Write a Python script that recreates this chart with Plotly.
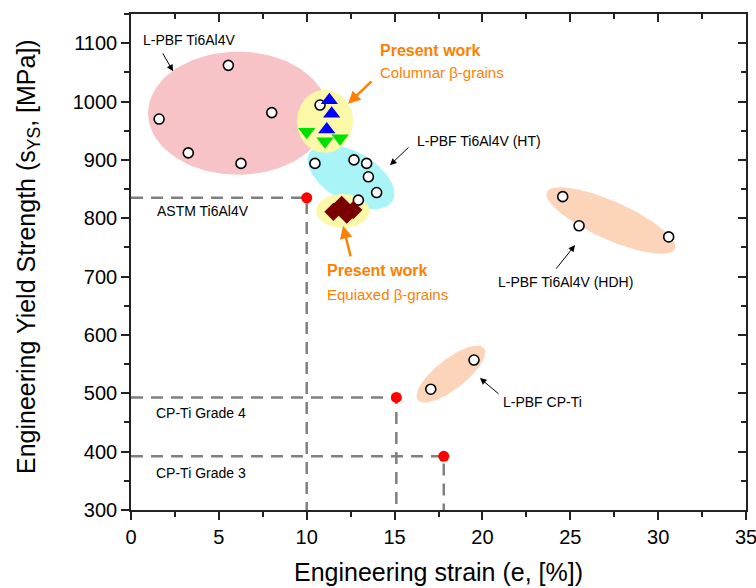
import numpy as np
import plotly.graph_objects as go

# ---------------- data ----------------
# L-PBF Ti6Al4V (as-built) literature points
lit_asbuilt_x = [1.6, 3.26, 5.54, 8.01, 6.26, 10.76]
lit_asbuilt_y = [970, 912, 1062, 981, 894, 994]
# L-PBF Ti6Al4V (HT)
lit_ht_x = [10.47, 12.69, 13.41, 13.51, 13.98, 12.94]
lit_ht_y = [894, 900, 894, 871, 844, 831]
# L-PBF Ti6Al4V (HDH)
lit_hdh_x = [24.57, 25.5, 30.6]
lit_hdh_y = [837, 787, 768]
# L-PBF CP-Ti
lit_cpti_x = [17.06, 19.52]
lit_cpti_y = [507, 557]
# Present work - columnar
col_up_x = [11.29, 11.42, 11.14]
col_up_y = [1002, 979, 952]
col_down_x = [10.0, 11.04, 11.9]
col_down_y = [948, 932, 937]
# Present work - equiaxed
eq_x = [11.52, 11.99, 12.28, 12.65]
eq_y = [811, 823, 806, 814]
# Standards
std_names = ["ASTM Ti6Al4V", "CP-Ti Grade 4", "CP-Ti Grade 3"]
std_x = [10.0, 15.1, 17.8]
std_y = [835, 493, 392]

x_range = [0, 35]
y_range = [300, 1150]
x_ticks = [0, 5, 10, 15, 20, 25, 30, 35]
y_ticks = [300, 400, 500, 600, 700, 800, 900, 1000, 1100]

# ---------------- layout constants ----------------
W, H = 756, 588
ML, MR, MT, MB = 131, 10, 14, 78
PW = W - ML - MR
PH = H - MT - MB
sx = PW / (x_range[1] - x_range[0])   # px per x unit
sy = PH / (y_range[1] - y_range[0])   # px per y unit


def ellipse(cx, cy, a_px, b_px, ang_deg, n=120):
    t = np.linspace(0, 2 * np.pi, n)
    th = np.deg2rad(ang_deg)
    u = a_px * np.cos(t)
    v = b_px * np.sin(t)
    ux = u * np.cos(th) - v * np.sin(th)
    vy = u * np.sin(th) + v * np.cos(th)
    return cx + ux / sx, cy + vy / sy


# ellipse regions: (center x, center y, semi-a px, semi-b px, angle, colour)
regions = [
    (6.09, 980, 90, 61.5, 0, "#F7C3C6"),
    (12.52, 871, 48, 25, -30, "#A8F4F7"),
    (11.04, 966, 28, 31.5, 0, "#FBF8A8"),
    (12.05, 812.5, 26.7, 17, 0, "#FBF8A8"),
    (27.31, 796, 70, 19, -24, "#FBD4BA"),
    (18.21, 533, 42, 15, 38, "#FBD4BA"),
]

fig = go.Figure()

for cx, cy, a, b, ang, col in regions:
    ex, ey = ellipse(cx, cy, a, b, ang)
    fig.add_trace(go.Scatter(x=ex, y=ey, mode="lines", fill="toself",
                             fillcolor=col, line=dict(width=0, color=col),
                             hoverinfo="skip"))

# dashed reference lines for standards
for sxv, syv in zip(std_x, std_y):
    fig.add_trace(go.Scatter(x=[0, sxv, sxv], y=[syv, syv, y_range[0]],
                             mode="lines",
                             line=dict(color="#808080", width=2.5, dash="12px,8px"),
                             hoverinfo="skip"))

fig.add_trace(go.Scatter(x=std_x, y=std_y, mode="markers",
                         marker=dict(color="#FF0000", size=11, line=dict(width=0))))

circle = dict(symbol="circle", color="white", size=10,
              line=dict(color="black", width=1.6))
for xs, ys in [(lit_asbuilt_x, lit_asbuilt_y), (lit_ht_x, lit_ht_y),
               (lit_hdh_x, lit_hdh_y), (lit_cpti_x, lit_cpti_y)]:
    fig.add_trace(go.Scatter(x=xs, y=ys, mode="markers", marker=circle))

fig.add_trace(go.Scatter(x=col_down_x, y=col_down_y, mode="markers",
                         marker=dict(symbol="triangle-down", size=15, color="#00E000",
                                     line=dict(width=0))))
fig.add_trace(go.Scatter(x=col_up_x, y=col_up_y, mode="markers",
                         marker=dict(symbol="triangle-up", size=15, color="#0000FF",
                                     line=dict(width=0))))
fig.add_trace(go.Scatter(x=eq_x, y=eq_y, mode="markers",
                         marker=dict(symbol="diamond", size=14, color="#7A0000",
                                     line=dict(width=0))))

# dummy trace for mirrored (top/right) axes
fig.add_trace(go.Scatter(x=[None], y=[None], xaxis="x2", yaxis="y2", mode="markers"))

FONT = "Liberation Sans, Arial, sans-serif"
ORANGE = "#FF8000"

ann = []


def text(x, y, s, size=14, color="black", bold=False):
    ann.append(dict(x=x, y=y, xref="x", yref="y", text=("<b>%s</b>" % s) if bold else s,
                    showarrow=False, xanchor="left", yanchor="middle",
                    font=dict(size=size, color=color, family=FONT)))


def arrow(x0, y0, x1, y1, color="black", width=1, head=2, hsize=1.3):
    ann.append(dict(x=x1, y=y1, ax=x0, ay=y0, xref="x", yref="y", axref="x", ayref="y",
                    text="", showarrow=True, arrowhead=head, arrowsize=hsize,
                    arrowwidth=width, arrowcolor=color))


text(0.57, 1105, "L-PBF Ti6Al4V")
text(14.05, 1087, "Present work", size=16, color=ORANGE, bold=True)
text(14.05, 1049, "Columnar β-grains", size=15, color=ORANGE)
text(16.16, 932, "L-PBF Ti6Al4V (HT)")
text(1.37, 812, "ASTM Ti6Al4V")
text(11.05, 710, "Present work", size=16, color=ORANGE, bold=True)
text(11.05, 670, "Equiaxed β-grains", size=15, color=ORANGE)
text(20.77, 691, "L-PBF Ti6Al4V (HDH)")
text(21.06, 485, "L-PBF CP-Ti")
text(1.31, 466, "CP-Ti Grade 4")
text(1.31, 363, "CP-Ti Grade 3")

arrow(1.76, 1085, 2.39, 1052)
arrow(13.77, 1037, 12.35, 996, color=ORANGE, width=2.5, hsize=1.0)
arrow(15.88, 924, 14.74, 891)
arrow(12.52, 732, 12.07, 787, color=ORANGE, width=2.5, hsize=1.0)
arrow(24.13, 711, 25.27, 754)
arrow(21.0, 497, 19.86, 526)

# axis titles
ann.append(dict(x=-103 / PW, y=0.51, xref="paper", yref="paper", textangle=-90,
                text="Engineering Yield Strength (s<sub>YS</sub>, [MPa])", showarrow=False,
                xanchor="center", yanchor="middle",
                font=dict(size=25, color="black", family=FONT)))
ann.append(dict(x=0.5, y=-62 / PH, xref="paper", yref="paper",
                text="Engineering strain (e, [%])", showarrow=False,
                xanchor="center", yanchor="middle",
                font=dict(size=25, color="black", family=FONT)))

axis_common = dict(showline=True, linecolor="#222", linewidth=1.6, showgrid=False,
                   zeroline=False, tickcolor="#222", tickwidth=1.5, automargin=False)

fig.update_layout(
    width=W, height=H,
    margin=dict(l=ML, r=MR, t=MT, b=MB, autoexpand=False),
    paper_bgcolor="white", plot_bgcolor="white",
    showlegend=False,
    font=dict(family=FONT, color="black"),
    xaxis=dict(range=x_range, tickvals=x_ticks, ticks="outside", ticklen=8,
               tickfont=dict(size=20, family=FONT), ticklabeloverflow="allow",
               minor=dict(dtick=2.5, ticks="outside", ticklen=5, tickcolor="#222", tickwidth=1.5),
               **axis_common),
    yaxis=dict(range=y_range, tickvals=y_ticks, ticks="outside", ticklen=8,
               tickfont=dict(size=20, family=FONT),
               minor=dict(dtick=50, ticks="outside", ticklen=5, tickcolor="#222", tickwidth=1.5),
               **axis_common),
    xaxis2=dict(range=x_range, tickvals=x_ticks, overlaying="x", side="top", anchor="y2",
                ticks="inside", ticklen=8, showticklabels=False,
                minor=dict(dtick=2.5, ticks="inside", ticklen=5, tickcolor="#222", tickwidth=1.5),
                **axis_common),
    yaxis2=dict(range=y_range, tickvals=y_ticks, overlaying="y", side="right", anchor="x2",
                ticks="inside", ticklen=8, showticklabels=False,
                minor=dict(dtick=50, ticks="inside", ticklen=5, tickcolor="#222", tickwidth=1.5),
                **axis_common),
    annotations=ann,
)

fig.write_html("out.html")
